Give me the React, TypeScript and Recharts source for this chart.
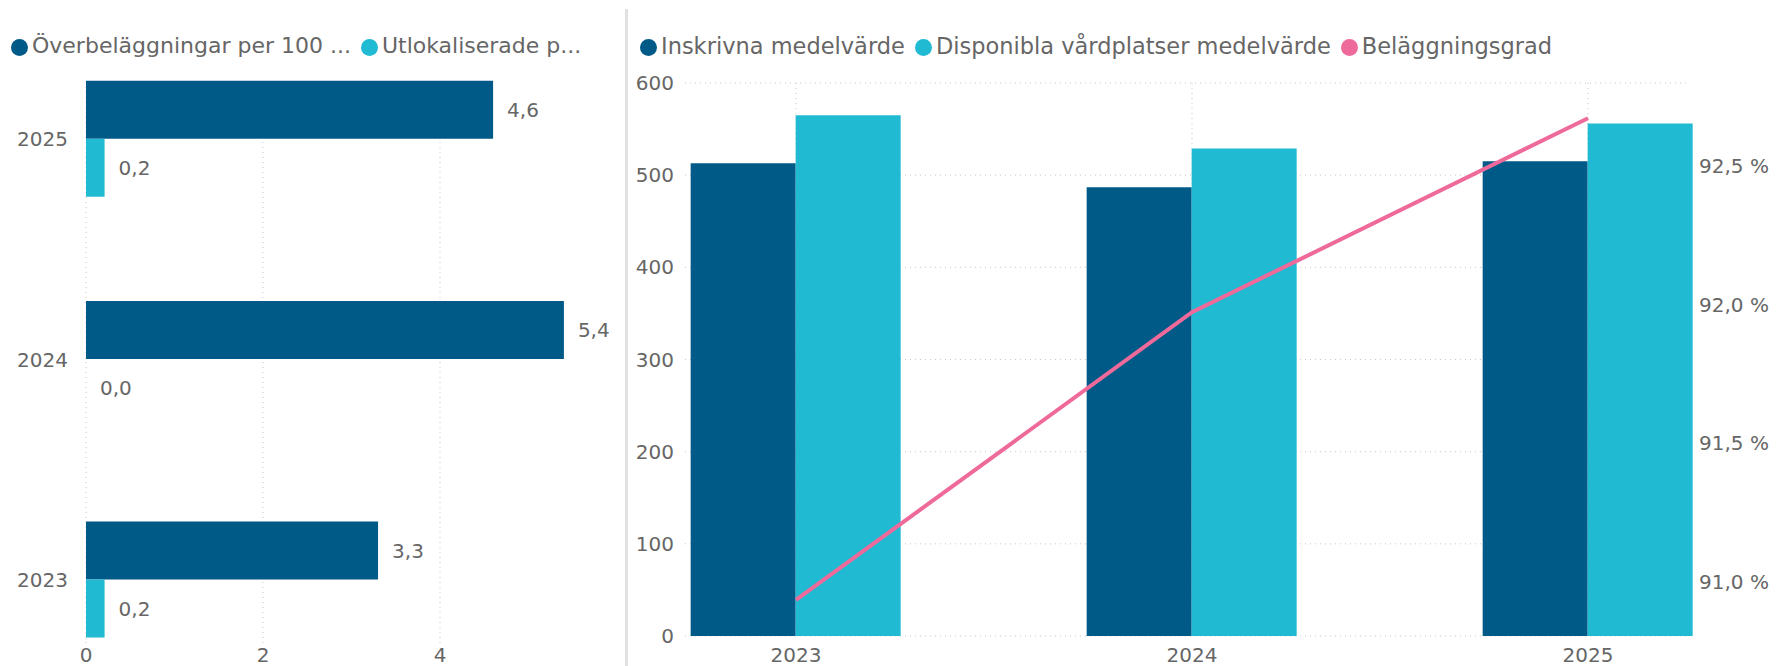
import React from 'react';
import {
  BarChart,
  Bar,
  XAxis,
  YAxis,
  CartesianGrid,
  Legend,
  LabelList,
  ComposedChart,
  Line,
} from 'recharts';

const FONT = 'DejaVu Sans';
const DARK = '#005A87';
const CYAN = '#20BAD3';
const PINK = '#EE6A9A';
const TEXT = '#666666';
const GRID = '#C8C8C8';

// Left chart data
const leftYears = ['2025', '2024', '2023'];
const overbelaggningar = [4.6, 5.4, 3.3];
const utlokaliserade = [0.21, 0.0, 0.21];
const leftXTicks = [0, 2, 4];
const leftXDomain = [0, 6];
const leftSeriesNames = ['Överbeläggningar per 100 ...', 'Utlokaliserade p...'];

// Right chart data
const rightYears = ['2023', '2024', '2025'];
const inskrivna = [513, 487, 515];
const disponibla = [565, 529, 556];
const belaggningsgrad = [90.935, 91.973, 92.673];
const countTicks = [0, 100, 200, 300, 400, 500, 600];
const pctTicks = [91.0, 91.5, 92.0, 92.5];
const rightSeriesNames = ['Inskrivna medelvärde', 'Disponibla vårdplatser medelvärde', 'Beläggningsgrad'];

const RIGHT_PAD = { left: -87, right: -99 };

const leftData = leftYears.map((y, i) => ({
  year: y,
  over: overbelaggningar[i],
  utlok: utlokaliserade[i],
}));

const rightData = rightYears.map((y, i) => ({
  year: y,
  inskrivna: inskrivna[i],
  disponibla: disponibla[i],
  grad: belaggningsgrad[i],
}));

const comma1 = (v: any) => Number(v).toFixed(1).replace('.', ',');
const pctFmt = (v: any) => Number(v).toFixed(1).replace('.', ',') + ' %';

const tickStyle = { fill: TEXT, fontSize: 20, fontFamily: FONT };
const legendFormatter = (value: any) => (
  <span style={{ color: TEXT }}>{value}</span>
);

const makeSorter = (names: string[]) => (a: any, b?: any) => {
  const ia = names.indexOf(a && a.value);
  if (b !== undefined && b !== null && typeof b === 'object') {
    return ia - names.indexOf(b.value);
  }
  return ia;
};

// grid lines only at the value ticks (same linear mapping as the axis)
const leftGridX = ({ offset }: any) =>
  leftXTicks.map(
    (t) => offset.left + ((t - leftXDomain[0]) / (leftXDomain[1] - leftXDomain[0])) * offset.width
  );

// grid lines at category centres (same band mapping as the padded axis)
const rightGridX = ({ offset }: any) => {
  const start = offset.left + RIGHT_PAD.left;
  const end = offset.left + offset.width - RIGHT_PAD.right;
  const band = (end - start) / rightYears.length;
  return rightYears.map((_, i) => start + band * (i + 0.5));
};

export default function App() {
  return (
    <div
      style={{
        position: 'absolute',
        left: 0,
        top: 0,
        width: 1790,
        height: 666,
        background: '#fff',
        fontFamily: FONT,
      }}
    >
      {/* Left chart */}
      <div style={{ position: 'absolute', left: 0, top: 0 }}>
        <BarChart
          width={626}
          height={666}
          data={leftData}
          layout="vertical"
          margin={{ top: 82, right: 9, bottom: 0, left: 0 }}
          barGap={0}
          barCategoryGap="23.5%"
        >
          <CartesianGrid
            horizontal={false}
            vertical={true}
            verticalCoordinatesGenerator={leftGridX as any}
            stroke={GRID}
            strokeDasharray="1 4"
          />
          <XAxis
            type="number"
            domain={leftXDomain}
            ticks={leftXTicks}
            axisLine={false}
            tickLine={false}
            tickSize={0}
            tickMargin={1}
            height={19}
            tick={tickStyle}
          />
          <YAxis
            type="category"
            dataKey="year"
            width={86}
            axisLine={false}
            tickLine={false}
            tickSize={0}
            tickMargin={18}
            padding={{ top: -53, bottom: -43 } as any}
            tick={tickStyle}
          />
          <Legend
            verticalAlign="middle"
            align="center"
            layout="horizontal"
            iconType="circle"
            iconSize={17}
            itemSorter={makeSorter(leftSeriesNames) as any}
            formatter={legendFormatter}
            wrapperStyle={{ top: 33, left: 11, fontSize: 22, fontFamily: FONT, width: 'auto' }}
          />
          <Bar dataKey="over" name={leftSeriesNames[0]} fill={DARK} isAnimationActive={false}>
            <LabelList
              dataKey="over"
              position="right"
              offset={14}
              formatter={comma1}
              style={{ fill: TEXT, fontSize: 20, fontFamily: FONT }}
            />
          </Bar>
          <Bar
            dataKey="utlok"
            name={leftSeriesNames[1]}
            fill={CYAN}
            minPointSize={0.01}
            isAnimationActive={false}
          >
            <LabelList
              dataKey="utlok"
              position="right"
              offset={14}
              formatter={comma1}
              style={{ fill: TEXT, fontSize: 20, fontFamily: FONT }}
            />
          </Bar>
        </BarChart>
      </div>

      {/* Separator */}
      <div
        style={{
          position: 'absolute',
          left: 625,
          top: 9,
          width: 3,
          height: 657,
          background: '#E1E1E1',
        }}
      />

      {/* Right chart */}
      <div style={{ position: 'absolute', left: 626, top: 0 }}>
        <ComposedChart
          width={1164}
          height={666}
          data={rightData}
          margin={{ top: 83, right: 0, bottom: 0, left: 0 }}
          barGap={0}
          barCategoryGap="23.4%"
        >
          <CartesianGrid
            yAxisId="left"
            verticalCoordinatesGenerator={rightGridX as any}
            stroke={GRID}
            strokeDasharray="1 4"
          />
          <XAxis
            dataKey="year"
            axisLine={false}
            tickLine={false}
            tickSize={0}
            tickMargin={12}
            height={30}
            padding={RIGHT_PAD as any}
            tick={tickStyle}
          />
          <YAxis
            yAxisId="left"
            orientation="left"
            domain={[0, 600]}
            ticks={countTicks}
            width={59}
            axisLine={false}
            tickLine={false}
            tickSize={0}
            tickMargin={11}
            tick={tickStyle}
          />
          <YAxis
            yAxisId="right"
            orientation="right"
            domain={[90.805, 92.8]}
            ticks={pctTicks}
            allowDataOverflow={true}
            width={103}
            axisLine={false}
            tickLine={false}
            tickSize={0}
            tickMargin={12}
            tickFormatter={pctFmt}
            tick={tickStyle}
          />
          <Legend
            verticalAlign="middle"
            align="center"
            layout="horizontal"
            iconType="circle"
            iconSize={17}
            itemSorter={makeSorter(rightSeriesNames) as any}
            formatter={legendFormatter}
            wrapperStyle={{ top: 33, left: 14, fontSize: 22.5, fontFamily: FONT, width: 'auto' }}
          />
          <Bar yAxisId="left" dataKey="inskrivna" name={rightSeriesNames[0]} fill={DARK} isAnimationActive={false} />
          <Bar yAxisId="left" dataKey="disponibla" name={rightSeriesNames[1]} fill={CYAN} isAnimationActive={false} />
          <Line
            yAxisId="right"
            dataKey="grad"
            name={rightSeriesNames[2]}
            stroke={PINK}
            strokeWidth={4}
            dot={false}
            activeDot={false}
            legendType="circle"
            isAnimationActive={false}
          />
        </ComposedChart>
      </div>
    </div>
  );
}
